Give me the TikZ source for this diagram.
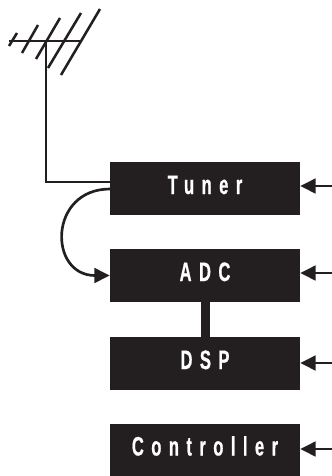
\documentclass[tikz,border=0pt]{standalone}
\usepackage{fontspec}
\newfontfamily\boxfont[FakeStretch=0.62,LetterSpace=28,BoldFeatures={FakeStretch=0.62,LetterSpace=28,FakeBold=0.6}]{Liberation Sans}
\usetikzlibrary{arrows.meta,positioning,calc}
\definecolor{ink}{HTML}{231F20}

\begin{document}
\begin{tikzpicture}[>={Triangle[length=11.5pt,width=11pt]},x=0.75pt,y=-0.75pt,
 box/.style={fill=ink,text=white,inner sep=0pt,minimum width=142.5pt,minimum height=39.75pt,font=\boxfont\bfseries\fontsize{20}{22}\selectfont,text height=12pt,text depth=3.75pt},
 wire/.style={draw=ink,line width=1.9pt},
 feed/.style={draw=ink,line width=2pt,->}]
\useasboundingbox (0,0) rectangle (332,476);
\node[box] (tuner) at (205,188.5) {Tuner};
\node[box] (adc) at (205,275.5) {ADC};
\node[box] (dsp) at (205,363.5) {DSP};
\node[box] (ctrl) at (205,450) {Controller};
\coordinate (boomL) at (9,41);
\coordinate (boomR) at (80,41);
\coordinate (mast) at (46,41);
\coordinate (tunerIn) at (110,182);
\coordinate (tunerOut) at (110,189);
\coordinate (e1a) at (9,46);
\coordinate (e1b) at (17,33);
\coordinate (e2a) at (22,53);
\coordinate (e2b) at (38,25);
\coordinate (e3a) at (36,59);
\coordinate (e3b) at (60,18);
\coordinate (e4a) at (48,68);
\coordinate (e4b) at (81,13);
\coordinate (e5a) at (61,75);
\coordinate (e5b) at (100,9);
\coordinate (tunerR) at (332,186);
\coordinate (adcR) at (332,273);
\coordinate (dspR) at (332,363);
\coordinate (ctrlR) at (332,449);
\draw[wire] (boomL) -- (boomR);
\draw[wire] (e1a) -- (e1b);
\draw[wire] (e2a) -- (e2b);
\draw[wire] (e3a) -- (e3b);
\draw[wire] (e4a) -- (e4b);
\draw[wire] (e5a) -- (e5b);
\draw[wire] (mast) |- (tunerIn);
\draw[feed] (tunerOut) to[out=180,in=180,looseness=1.82] (adc.west);
\draw[draw=ink,line width=6.75pt] (adc) -- (dsp);
\draw[feed] (tunerR) -- (tunerR -| tuner.east);
\draw[feed] (adcR) -- (adcR -| adc.east);
\draw[feed] (dspR) -- (dspR -| dsp.east);
\draw[feed] (ctrlR) -- (ctrlR -| ctrl.east);
\end{tikzpicture}
\end{document}
